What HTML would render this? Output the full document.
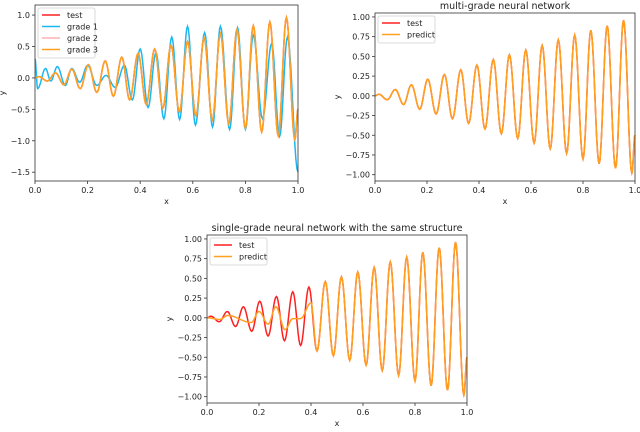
<!DOCTYPE html>
<html><head><meta charset="utf-8">
<style>
body{margin:0;background:#fff;}
svg text{font-family:"DejaVu Sans","Liberation Sans",sans-serif;fill:#222;}
</style></head>
<body>
<svg id="fig" width="640" height="427" viewBox="0 0 640 427" xmlns="http://www.w3.org/2000/svg"></svg>
<script>
// true function extrema
const trueX=[0,0.015,0.047,0.078,0.11,0.14,0.172,0.203,0.235,0.267,0.298,0.33,0.36,0.392,0.423,0.455,0.486,0.517,0.549,0.58,0.612,0.643,0.674,0.705,0.737,0.768,0.8,0.83,0.862,0.893,0.925,0.956,0.988,1.0];
const trueY=[0,0.02,-0.05,0.08,-0.11,0.14,-0.17,0.21,-0.23,0.27,-0.29,0.33,-0.35,0.39,-0.42,0.46,-0.48,0.52,-0.54,0.58,-0.6,0.64,-0.67,0.71,-0.73,0.77,-0.8,0.83,-0.86,0.89,-0.92,0.96,-0.98,-0.5];
// grade 1 extrema
const g1X=[0,0.01,0.04,0.06,0.085,0.115,0.14,0.17,0.2,0.235,0.27,0.305,0.34,0.37,0.4,0.43,0.46,0.49,0.52,0.55,0.58,0.61,0.645,0.675,0.705,0.74,0.77,0.8,0.83,0.865,0.9,0.93,0.96,1.0];
const g1Y=[0.3,-0.17,0.15,-0.05,0.18,-0.12,0.15,-0.07,0.2,-0.12,0.04,-0.15,0.2,-0.35,0.46,-0.47,0.4,-0.65,0.65,-0.66,0.82,-0.75,0.72,-0.78,0.82,-0.82,0.8,-0.82,0.68,-0.65,0.55,-0.93,0.65,-1.5];
// single-grade predict extrema
const sgX=[0,0.05,0.08,0.17,0.2,0.235,0.265,0.3,0.33,0.36,0.4,0.423,0.455,0.486,0.517,0.549,0.58,0.612,0.643,0.674,0.705,0.737,0.768,0.8,0.83,0.862,0.893,0.925,0.956,0.988,1.0];
const sgY=[0,-0.02,0.03,-0.06,0.08,-0.08,0.14,-0.15,-0.01,-0.01,0.19,-0.42,0.46,-0.48,0.52,-0.54,0.58,-0.6,0.64,-0.67,0.71,-0.73,0.77,-0.8,0.83,-0.86,0.89,-0.92,0.96,-0.98,-0.5];
const xTicks=[0,0.2,0.4,0.6,0.8,1.0];
const yTicks1=[1.0,0.5,0.0,-0.5,-1.0,-1.5];
const yTicks2=[1.0,0.75,0.5,0.25,0.0,-0.25,-0.5,-0.75,-1.0];

const NS="http://www.w3.org/2000/svg";
const svg=document.getElementById('fig');
function mk(tag,attrs,parent){const e=document.createElementNS(NS,tag);for(const k in attrs)e.setAttribute(k,attrs[k]);(parent||svg).appendChild(e);return e;}

function panel(p){
  const g=mk('g',{});
  
  
  const sx=v=>p.x0+(v-0)*(p.x1-p.x0);
  const sy=v=>p.yb+(v-p.ymin)/(p.ymax-p.ymin)*(p.yt-p.yb);
  // series
  p.series.forEach(s=>{
    let d='';
    for(let i=0;i<s.xs.length-1;i++){
      const xa=s.xs[i],xb=s.xs[i+1],ya=s.ys[i],yb=s.ys[i+1];
      const n=10;
      for(let k=(i===0?0:1);k<=n;k++){
        const t=k/n;const xv=xa+(xb-xa)*t;const yv=ya+(yb-ya)*(1-Math.cos(Math.PI*t))/2;
        d+=(d?'L':'M')+sx(xv).toFixed(2)+' '+sy(yv).toFixed(2);
      }
    }
    const path=mk('path',{d:d,fill:'none',stroke:s.color,'stroke-width':s.w||1.5,opacity:s.op||1},g);
    
    
  });
  // frame
  const fr=mk('rect',{x:p.x0,y:p.yt,width:p.x1-p.x0,height:p.yb-p.yt,fill:'none',stroke:'#333','stroke-width':0.8},g);
  
  
  xTicks.forEach(v=>{
    mk('line',{x1:sx(v),x2:sx(v),y1:p.yb,y2:p.yb+3,stroke:'#333','stroke-width':0.8},g);
    const t=mk('text',{x:sx(v),y:p.yb+12,'font-size':8,'text-anchor':'middle'},g);
    t.textContent=v.toFixed(1);
    
    
  });
  p.yTicks.forEach(v=>{
    mk('line',{x1:p.x0-3,x2:p.x0,y1:sy(v),y2:sy(v),stroke:'#333','stroke-width':0.8},g);
    const t=mk('text',{x:p.x0-5,y:sy(v)+3,'font-size':8,'text-anchor':'end'},g);
    t.textContent=(v<0?'\u2212':'')+Math.abs(v).toFixed(p.dec);
    
    
  });
  const xl=mk('text',{x:(p.x0+p.x1)/2,y:p.yb+23,'font-size':8,'text-anchor':'middle'},g);
  xl.textContent='x';
  
  
  const yl=mk('text',{x:p.ylx,y:(p.yt+p.yb)/2,'font-size':8,'text-anchor':'middle',transform:`rotate(-90 ${p.ylx} ${(p.yt+p.yb)/2})`},g);
  yl.textContent='y';
  
  
  if(p.title){
    const tt=mk('text',{x:(p.x0+p.x1)/2,y:p.yt-4,'font-size':9.5,'text-anchor':'middle'},g);
    tt.textContent=p.title;
    
    
  }
  // legend
  const L=p.legend;const lg=mk('g',{},g);
  
  
  mk('rect',{x:p.x0+3,y:p.yt+3,width:L.w,height:L.items.length*11.5+4,rx:2,fill:'#fff',stroke:'#ccc','stroke-width':0.8,opacity:0.9},lg);
  L.items.forEach((it,i)=>{
    const yy=p.yt+10+i*11.5;
    mk('line',{x1:p.x0+7,x2:p.x0+25,y1:yy,y2:yy,stroke:it[1],'stroke-width':1.5,opacity:it[2]||1},lg);
    const t=mk('text',{x:p.x0+32,y:yy+3,'font-size':8},lg);
    t.textContent=it[0];
    
    
  });
}

panel({name:'grades-panel',x0:35,x1:298,yt:5,yb:181,ymin:-1.64,ymax:1.16,yTicks:yTicks1,dec:1,ylx:5,
  series:[{id:'test-line',xs:trueX,ys:trueY,color:'#ff2020'},{id:'grade-1-line',xs:g1X,ys:g1Y,color:'#1ab8f0'},
          {id:'grade-2-line',xs:trueX,ys:trueY,color:'#ffb0b0',op:0.8},{id:'grade-3-line',xs:trueX,ys:trueY,color:'#ffa020'}],
  legend:{w:57,items:[['test','#ff2020'],['grade 1','#1ab8f0'],['grade 2','#ffb0b0'],['grade 3','#ffa020']]}});
panel({name:'multi-grade-panel',x0:375,x1:635,yt:13,yb:181,ymin:-1.08,ymax:1.05,yTicks:yTicks2,dec:2,ylx:340,title:'multi-grade neural network',
  series:[{id:'test-line',xs:trueX,ys:trueY,color:'#ff2020'},{id:'predict-line',xs:trueX,ys:trueY,color:'#ffa020'}],
  legend:{w:57,items:[['test','#ff2020'],['predict','#ffa020']]}});
panel({name:'single-grade-panel',x0:207,x1:467,yt:235,yb:403,ymin:-1.08,ymax:1.05,yTicks:yTicks2,dec:2,ylx:172,title:'single-grade neural network with the same structure',
  series:[{id:'test-line',xs:trueX,ys:trueY,color:'#ff2020'},{id:'predict-line',xs:sgX,ys:sgY,color:'#ffa020'}],
  legend:{w:57,items:[['test','#ff2020'],['predict','#ffa020']]}});
</script>
</body></html>
